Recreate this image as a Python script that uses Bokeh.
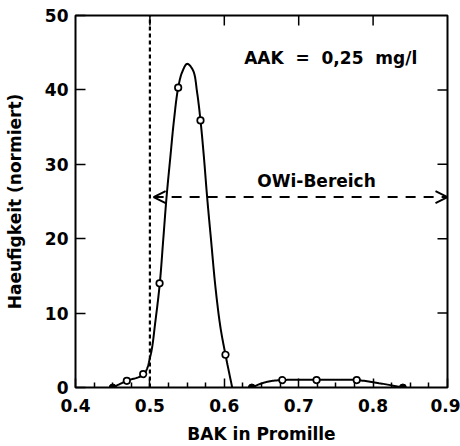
import numpy as np
from bokeh.plotting import figure
from bokeh.models import FixedTicker, Range1d, Arrow, OpenHead, Label
from bokeh.embed import file_html
from bokeh.resources import INLINE

# ---- data ----
x_ticks = [0.4, 0.5, 0.6, 0.7, 0.8, 0.9]
x_tick_labels = ["0.4", "0.5", "0.6", "0.7", "0.8", "0.9"]
x_minor_ticks = [0.425, 0.45, 0.475, 0.525, 0.55, 0.575, 0.625, 0.65, 0.675,
                 0.725, 0.75, 0.775, 0.825, 0.85, 0.875]
top_ticks = [0.5, 0.6, 0.7, 0.8]
y_ticks = [0, 10, 20, 30, 40, 50]
y_tick_labels = ["0", "10", "20", "30", "40", "50"]
right_ticks = [10, 20, 30, 40]

# measured points (open circles)
pts_x = [0.469, 0.491, 0.513, 0.538, 0.568, 0.6016, 0.678, 0.724, 0.778]
pts_y = [0.9, 1.8, 14.0, 40.3, 35.9, 4.4, 1.0, 1.0, 1.0]
# end points (filled dots)
end_x = [0.45, 0.637, 0.84]
end_y = [0.0, 0.0, 0.0]

# smoothed curve, first peak
c1_x = [0.450, 0.469, 0.4918, 0.5008, 0.5075, 0.5133, 0.5178, 0.5223, 0.5277,
        0.5321, 0.538, 0.5434, 0.5501, 0.5581, 0.5634, 0.568, 0.5724, 0.577,
        0.5823, 0.5882, 0.5948, 0.6016, 0.6106]
c1_y = [0.0, 0.9, 1.8, 4.3, 9.0, 14.0, 19.7, 25.5, 31.2,
        35.7, 40.3, 42.4, 43.5, 42.6, 39.7, 35.9, 31.2, 25.5,
        19.7, 13.4, 8.1, 4.4, 0.0]
# smoothed curve, second bump
c2_x = [0.637, 0.6487, 0.662, 0.678, 0.700, 0.724, 0.750, 0.778, 0.810, 0.840]
c2_y = [0.0, 0.5, 0.85, 1.0, 1.05, 1.05, 1.05, 1.0, 0.55, 0.0]

owi_start = 0.505
owi_end = 0.9
owi_level = 25.6
bak_limit = 0.5

X0, X1 = 0.4, 0.9
Y0, Y1 = 0, 50
FRAME_W, FRAME_H = 372, 374
PX_X = FRAME_W / (X1 - X0)
PX_Y = FRAME_H / (Y1 - Y0)


def smooth(xs, ys, sx=PX_X, sy=PX_Y, n=16):
    """centripetal Catmull-Rom through the read points (screen-scaled)."""
    P = np.column_stack([np.asarray(xs) * sx, np.asarray(ys) * sy])
    P = np.vstack([2 * P[0] - P[1], P, 2 * P[-1] - P[-2]])
    out = []
    for i in range(1, len(P) - 2):
        p0, p1, p2, p3 = P[i - 1], P[i], P[i + 1], P[i + 2]
        t0 = 0.0
        t1 = t0 + max(np.linalg.norm(p1 - p0), 1e-6) ** 0.5
        t2 = t1 + max(np.linalg.norm(p2 - p1), 1e-6) ** 0.5
        t3 = t2 + max(np.linalg.norm(p3 - p2), 1e-6) ** 0.5
        for t in np.linspace(t1, t2, n, endpoint=False):
            a1 = (t1 - t) / (t1 - t0) * p0 + (t - t0) / (t1 - t0) * p1
            a2 = (t2 - t) / (t2 - t1) * p1 + (t - t1) / (t2 - t1) * p2
            a3 = (t3 - t) / (t3 - t2) * p2 + (t - t2) / (t3 - t2) * p3
            b1 = (t2 - t) / (t2 - t0) * a1 + (t - t0) / (t2 - t0) * a2
            b2 = (t3 - t) / (t3 - t1) * a2 + (t - t1) / (t3 - t1) * a3
            c = (t2 - t) / (t2 - t1) * b1 + (t - t1) / (t2 - t1) * b2
            out.append(c)
    out.append(P[-2])
    out = np.array(out)
    return list(out[:, 0] / sx), list(np.maximum(out[:, 1] / sy, 0.0))


FONT = "DejaVu Sans"
FS = "17px"
NB = "\u00a0"

p = figure(width=460, height=446, x_range=Range1d(X0, X1), y_range=Range1d(Y0, Y1),
           output_backend="svg", toolbar_location=None,
           min_border_left=75, min_border_right=460 - 75 - FRAME_W,
           min_border_top=15, min_border_bottom=446 - 15 - FRAME_H)
p.background_fill_color = "white"
p.border_fill_color = "white"
p.outline_line_color = "black"
p.outline_line_width = 2
p.xgrid.visible = False
p.ygrid.visible = False

# bottom axis
xa = p.xaxis[0]
xa.ticker = FixedTicker(ticks=x_ticks, minor_ticks=x_minor_ticks)
xa.major_label_overrides = {t: l for t, l in zip(x_ticks, x_tick_labels)}
xa.axis_line_color = None
xa.major_tick_in = 9
xa.major_tick_out = 0
xa.minor_tick_in = 5
xa.minor_tick_out = 0
xa.major_tick_line_width = 1.5
xa.minor_tick_line_width = 1.5
xa.major_label_standoff = 11
xa.major_label_text_font = FONT
xa.major_label_text_font_style = "bold"
xa.major_label_text_font_size = FS
xa.major_label_text_color = "black"
xa.axis_label = "BAK in Promille"
xa.axis_label_text_font = FONT
xa.axis_label_text_font_style = "bold"
xa.axis_label_text_font_size = FS
xa.axis_label_text_color = "black"
xa.axis_label_standoff = 9

# left axis
ya = p.yaxis[0]
ya.ticker = FixedTicker(ticks=y_ticks, minor_ticks=[])
ya.major_label_overrides = {t: l for t, l in zip(y_ticks, y_tick_labels)}
ya.axis_line_color = None
ya.major_tick_in = 10
ya.major_tick_out = 0
ya.major_tick_line_width = 1.5
ya.minor_tick_line_color = None
ya.major_label_standoff = 7
ya.major_label_text_font = FONT
ya.major_label_text_font_style = "bold"
ya.major_label_text_font_size = FS
ya.major_label_text_color = "black"
ya.axis_label = "Haeufigkeit (normiert)"
ya.axis_label_text_font = FONT
ya.axis_label_text_font_style = "bold"
ya.axis_label_text_font_size = FS
ya.axis_label_text_color = "black"
ya.axis_label_standoff = 17

# top and right inward ticks (10 px long)
top_len = 10 / PX_Y
right_len = 10 / PX_X
p.segment(x0=top_ticks, y0=[Y1] * len(top_ticks), x1=top_ticks,
          y1=[Y1 - top_len] * len(top_ticks), line_color="black", line_width=1.5)
p.segment(x0=[X1] * len(right_ticks), y0=right_ticks, x1=[X1 - right_len] * len(right_ticks),
          y1=right_ticks, line_color="black", line_width=1.5)

# dotted limit line
p.line([bak_limit, bak_limit], [Y0, Y1], line_color="black",
       line_width=2.2, line_dash="4 3")

# curves
s1x, s1y = smooth(c1_x, c1_y)
s2x, s2y = smooth(c2_x, c2_y)
p.line(s1x, s1y, line_color="black", line_width=2)
p.line(s2x, s2y, line_color="black", line_width=2)

# points
p.scatter(pts_x, pts_y, size=6.5, marker="circle", fill_color="white",
          line_color="black", line_width=1.7)
p.scatter(end_x, end_y, size=7, marker="circle", fill_color="black",
          line_color="black")

# OWi range arrow
p.add_layout(Arrow(x_start=owi_start, y_start=owi_level, x_end=owi_end, y_end=owi_level,
                   line_color="black", line_width=2, line_dash="10 8",
                   start=OpenHead(size=12, line_width=2, line_color="black"),
                   end=OpenHead(size=12, line_width=2, line_color="black")))

p.add_layout(Label(x=0.724, y=27.7, text="OWi-Bereich", text_align="center",
                   text_baseline="middle", text_font=FONT, text_font_style="bold",
                   text_font_size=FS, text_color="black"))
p.add_layout(Label(x=0.743, y=44.3, text=f"AAK {NB}= {NB}0,25 {NB}mg/l",
                   text_align="center",
                   text_baseline="middle", text_font=FONT, text_font_style="bold",
                   text_font_size=FS, text_color="black"))

open("out.html", "w").write(file_html(p, INLINE))
